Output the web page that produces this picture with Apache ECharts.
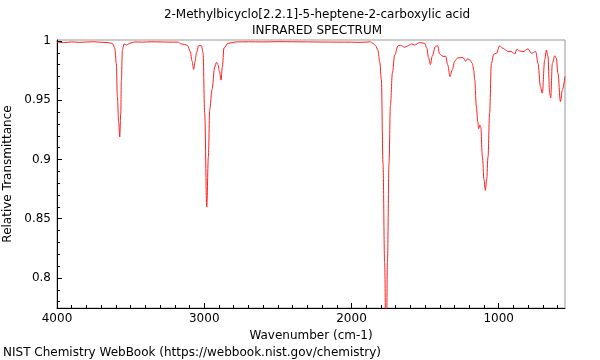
<!DOCTYPE html>
<html>
<head>
<meta charset="utf-8">
<script src="https://cdn.jsdelivr.net/npm/echarts@6/dist/echarts.min.js"></script>
<style>html,body{margin:0;padding:0;background:#fff}#c{width:600px;height:360px}</style>
</head>
<body>
<div id="c"></div>
<script>
var wavenumbers = [4000,3950,3900,3850,3800,3750,3700,3660,3635,3620,3608,3597,3590,3581,3574,3567,3563,3556,3545,3529,3506,3472,3420,3360,3300,3240,3180,3155,3133,3112,3095,3083,3072,3062,3053,3038,3019,3008,2997,2983,2972,2963,2947,2929,2917,2907,2896,2886,2877,2866,2839,2782,2700,2600,2500,2400,2300,2200,2100,2000,1950,1900,1876,1854,1836,1820,1808,1797,1786,1775,1764,1756,1745,1736,1722,1707,1684,1666,1639,1618,1593,1571,1537,1503,1489,1476,1464,1452,1430,1415,1401,1379,1360,1347,1331,1316,1299,1279,1243,1225,1211,1197,1179,1170,1163,1152,1143,1136,1129,1122,1111,1100,1091,1082,1073,1062,1050,1034,1016,994,971,953,937,914,892,876,858,835,801,778,749,733,717,704,688,676,666,654,647,636,620,609,598,581,568,550];
var transmittance = [0.9990,0.9986,0.9992,0.9988,0.9991,0.9993,0.9989,0.9986,0.9982,0.9975,0.994,0.981,0.953,0.931,0.919,0.939,0.967,0.992,0.9975,0.9966,0.998,0.9992,0.9990,0.9993,0.9992,0.9990,0.9990,0.9975,0.997,0.996,0.991,0.983,0.976,0.983,0.990,0.996,0.996,0.990,0.939,0.860,0.902,0.942,0.959,0.978,0.982,0.980,0.974,0.967,0.978,0.994,0.998,0.9992,0.9993,0.9992,0.9994,0.9993,0.9992,0.9991,0.9990,0.9990,0.9988,0.9990,0.9993,0.998,0.996,0.992,0.982,0.967,0.897,0.813,0.72,0.813,0.897,0.945,0.973,0.988,0.996,0.9962,0.9947,0.9958,0.9975,0.9966,0.9986,0.998,0.994,0.9857,0.980,0.987,0.9954,0.996,0.989,0.987,0.987,0.980,0.970,0.9755,0.983,0.9857,0.986,0.983,0.985,0.984,0.981,0.9755,0.967,0.945,0.932,0.926,0.929,0.9275,0.902,0.883,0.874,0.883,0.902,0.939,0.981,0.9888,0.9896,0.9958,0.9938,0.9924,0.991,0.991,0.989,0.993,0.9916,0.991,0.9933,0.9896,0.991,0.981,0.9615,0.956,0.984,0.9924,0.987,0.956,0.952,0.981,0.9874,0.9854,0.9728,0.9488,0.9587,0.970];
var xMajorTicks = [1000,2000,3000,4000];
var yMajorTicks = [0.8,0.85,0.9,0.95,1];
var xMinorTicks = [];
for (var v = 600; v < 4000; v += 100) { if (v % 1000 !== 0) xMinorTicks.push(v); }
var yMinorTicks = [];
for (var k = 78; k < 100; k++) { if (k % 5 !== 0) yMinorTicks.push(k / 100); }

var X_MIN = 550, X_MAX = 4000, Y_MIN = 0.7747, Y_MAX = 1.0008;
var FONT = 'DejaVu Sans';
var data = wavenumbers.map(function (w, i) { return [w, transmittance[i]]; });
function plain(v) { return String(Math.round(v * 1000) / 1000); }

var chart = echarts.init(document.getElementById('c'), null, {renderer: 'canvas'});
chart.setOption({
  animation: false,
  backgroundColor: '#fff',
  title: {
    text: '2-Methylbicyclo[2.2.1]-5-heptene-2-carboxylic acid\nINFRARED SPECTRUM',
    left: 312, textAlign: 'center', top: 2,
    textStyle: {fontFamily: FONT, fontSize: 12, fontWeight: 'normal', color: '#000', lineHeight: 16}
  },
  grid: {left: 57, right: 35, top: 40, bottom: 52, containLabel: false, outerBoundsMode: 'none',
         show: true, borderColor: '#999', borderWidth: 1, backgroundColor: 'transparent'},
  xAxis: [{
    type: 'value', min: X_MIN, max: X_MAX, inverse: true, position: 'bottom',
    name: 'Wavenumber (cm-1)', nameLocation: 'middle', nameGap: 17,
    nameTextStyle: {fontFamily: FONT, fontSize: 12, color: '#000'},
    axisLine: {show: true, onZero: false, lineStyle: {color: '#000', width: 1}},
    axisTick: {show: true, inside: true, length: 5, customValues: xMajorTicks, lineStyle: {color: '#000'}},
    axisLabel: {show: true, customValues: xMajorTicks, formatter: plain, margin: 5, fontFamily: FONT, fontSize: 12, color: '#000'},
    splitLine: {show: false}
  }, {
    type: 'value', min: X_MIN, max: X_MAX, inverse: true, position: 'bottom',
    axisLine: {show: false, onZero: false},
    axisTick: {show: true, inside: true, length: 3, customValues: xMinorTicks, lineStyle: {color: '#000'}},
    axisLabel: {show: false},
    splitLine: {show: false}
  }],
  yAxis: [{
    type: 'value', min: Y_MIN, max: Y_MAX, position: 'left',
    name: 'Relative Transmittance', nameLocation: 'middle', nameGap: 31,
    nameTextStyle: {fontFamily: FONT, fontSize: 12, color: '#000'},
    axisLine: {show: true, onZero: false, lineStyle: {color: '#000', width: 1}},
    axisTick: {show: true, inside: true, length: 5, customValues: yMajorTicks, lineStyle: {color: '#000'}},
    axisLabel: {show: true, customValues: yMajorTicks, formatter: plain, margin: 6, fontFamily: FONT, fontSize: 12, color: '#000'},
    splitLine: {show: false}
  }, {
    type: 'value', min: Y_MIN, max: Y_MAX, position: 'left',
    axisLine: {show: false, onZero: false},
    axisTick: {show: true, inside: true, length: 3, customValues: yMinorTicks, lineStyle: {color: '#000'}},
    axisLabel: {show: false},
    splitLine: {show: false}
  }],
  graphic: [{
    type: 'text', left: 3, top: 347,
    style: {text: 'NIST Chemistry WebBook (https://webbook.nist.gov/chemistry)', font: '12px "DejaVu Sans"', fill: '#000'}
  }],
  series: [{
    type: 'line', xAxisIndex: 0, yAxisIndex: 0, data: data,
    showSymbol: false, smooth: 0.35, smoothMonotone: 'x', clip: true,
    lineStyle: {color: '#ff2020', width: 1}
  }]
});
</script>
</body>
</html>
